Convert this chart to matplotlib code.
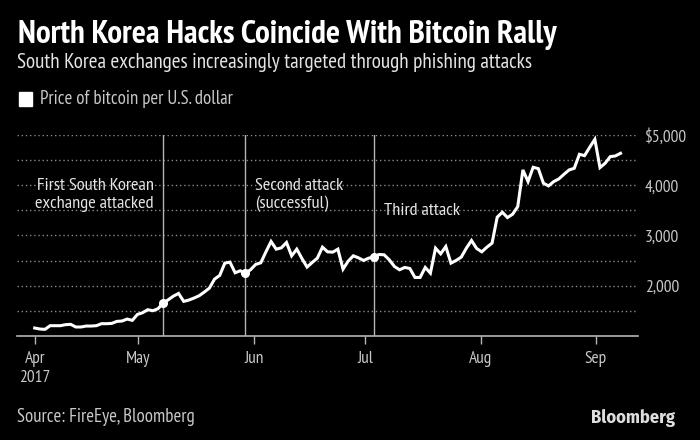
#!/usr/bin/env python3
import logging
import matplotlib
matplotlib.use('Agg')
import matplotlib.pyplot as plt
from matplotlib.patches import Rectangle

logging.getLogger('matplotlib.font_manager').setLevel(logging.ERROR)
plt.rcParams['font.family'] = ['PT Sans Narrow', 'Fira Sans Condensed', 'Saira Condensed', 'Liberation Sans', 'DejaVu Sans']

# Price, one value per trading day
price = [1159, 1139, 1132, 1205, 1205, 1205, 1225, 1232, 1179, 1179,
         1198, 1198, 1205, 1245, 1245, 1251, 1291, 1298, 1337, 1311,
         1430, 1463, 1523, 1503, 1543, 1655, 1722, 1794, 1847, 1689,
         1715, 1755, 1801, 1874, 1953, 2132, 2205, 2450, 2470, 2258,
         2298, 2251, 2318, 2424, 2457, 2675, 2881, 2728, 2755, 2861,
         2596, 2728, 2543, 2371, 2463, 2550, 2768, 2675, 2669, 2728,
         2331, 2490, 2596, 2556, 2503, 2550, 2569, 2622, 2616, 2516,
         2384, 2318, 2364, 2344, 2165, 2165, 2364, 2251, 2748, 2636,
         2781, 2450, 2503, 2569, 2748, 2901, 2742, 2675, 2768, 2848,
         3364, 3463, 3357, 3424, 3576, 4305, 4073, 4358, 4331, 4040,
         3987, 4073, 4126, 4219, 4305, 4338, 4616, 4589, 4755, 4914,
         4351, 4437, 4570, 4583, 4636]
days = list(range(len(price)))

month_pos = [0, 20.2, 42.7, 64.3, 86.8, 109.2]
month_labels = ['Apr\n2017', 'May', 'Jun', 'Jul', 'Aug', 'Sep']
grid_values = [1500, 2000, 2500, 3000, 3500, 4000, 4500, 5000]
price_ticks = [2000, 3000, 4000, 5000]
price_labels = ['2,000', '3,000', '4,000', '$5,000']
attack_days = [25, 41, 66]

fg = '#c9c9c9'
fig = plt.figure(figsize=(7, 4.4), dpi=100, facecolor='black')
ax = fig.add_axes([17 / 700, 104 / 440, 621 / 700, 201 / 440], facecolor='black')

for v in grid_values:
    ax.axhline(v, color='#8a8a8a', linewidth=1, linestyle=(0, (1, 2)), zorder=1)
for d in attack_days:
    ax.axvline(d, color='#b5b5b5', linewidth=1, zorder=2)

ax.plot(days, price, color='white', linewidth=2.2, solid_joinstyle='miter', zorder=3)
ax.plot(attack_days, [price[d] for d in attack_days], 'o', color='white', markersize=5.5, zorder=4)

ax.set_xlim(-3.44, 117.4)
ax.set_ylim(1000, 5000)
for side in ['top', 'left', 'right']:
    ax.spines[side].set_visible(False)
ax.spines['bottom'].set_color('#b5b5b5')
ax.spines['bottom'].set_linewidth(1.2)
ax.set_xticks(month_pos)
ax.set_xticklabels(month_labels, color=fg, fontsize=12.5, linespacing=1.25)
ax.yaxis.tick_right()
ax.set_yticks(price_ticks)
ax.set_yticklabels(price_labels, color=fg, fontsize=12.5)
ax.tick_params(axis='x', length=6, width=1, color='#b5b5b5', pad=5)
ax.tick_params(axis='y', length=0, pad=5)

# Annotations
ax.text(23.2, 3800, 'First South Korean\nexchange attacked', color='#e4e4e4', fontsize=13.2,
        ha='right', va='center', linespacing=1.15)
ax.text(42.8, 3800, 'Second attack\n(successful)', color='#e4e4e4', fontsize=13.2,
        ha='left', va='center', linespacing=1.15)
ax.text(67.9, 3480, 'Third attack', color='#e4e4e4', fontsize=13.2, ha='left', va='center')

# Header, legend and footer
fig.text(18 / 700, 1 - 35 / 440, 'North Korea Hacks Coincide With Bitcoin Rally', color='white',
         fontsize=23.9, fontweight='bold', va='center')
fig.text(17 / 700, 1 - 63 / 440, 'South Korea exchanges increasingly targeted through phishing attacks',
         color='#e4e4e4', fontsize=15.2, va='center')
fig.add_artist(Rectangle((19 / 700, 1 - 106 / 440), 13 / 700, 14 / 440, color='white',
                         transform=fig.transFigure))
fig.text(40 / 700, 1 - 99 / 440, 'Price of bitcoin per U.S. dollar', color=fg, fontsize=13.5, va='center')
fig.text(17 / 700, 1 - 417 / 440, 'Source: FireEye, Bloomberg', color=fg, fontsize=13.5, va='center')
fig.text(675 / 700, 1 - 418 / 440, 'Bloomberg', color='#dddddd', fontsize=13.2, fontweight='bold',
         ha='right', va='center', family=['Fira Sans Condensed', 'Liberation Sans', 'DejaVu Sans'])

fig.savefig('out.png', dpi=100, facecolor='black')
